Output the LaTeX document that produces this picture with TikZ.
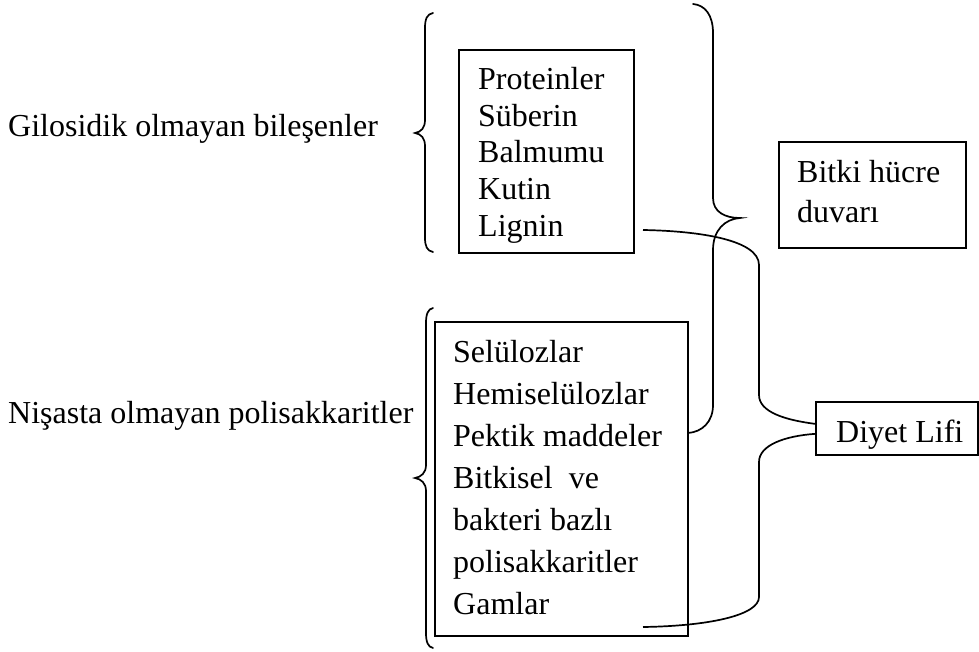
\documentclass[tikz,border=0pt]{standalone}
\usepackage{fontspec}
\setmainfont{Liberation Serif}
\tikzset{
  box/.style={draw, line width=1.7pt, inner sep=0pt, anchor=north west},
  listtext/.style={align=left, inner sep=0pt, anchor=north west},
  label/.style={inner sep=0pt, anchor=base west, font=\fontsize{32}{38}\selectfont},
  bracket/.style={line width=1.7pt, line cap=round},
  link/.style={line width=1.7pt}
}
\begin{document}
\begin{tikzpicture}[x=1pt, y=-1pt]
  \useasboundingbox (0,0) rectangle (979,652);
  \node[label] (nonglyclabel) at (8,137) {Gilosidik olmayan bileşenler};
  \node[label] (nspLabel) at (8,423) {Nişasta olmayan polisakkaritler};
  \node[box, minimum width=175pt, minimum height=203pt] (nonglycbox) at (458,49) {};
  \node[listtext, font=\fontsize{32}{36.7}\selectfont] (nonglyc) at (478,67)
    {Proteinler\\Süberin\\Balmumu\\Kutin\\Lignin};
  \node[box, minimum width=253pt, minimum height=314pt] (nspbox) at (434,321) {};
  \node[listtext, font=\fontsize{32}{42}\selectfont] (nsp) at (453,340)
    {Selülozlar\\Hemiselülozlar\\Pektik maddeler\\Bitkisel\ \ ve\\bakteri bazlı\\polisakkaritler\\Gamlar};
  \node[box, minimum width=187pt, minimum height=106pt] (wallbox) at (778,141) {};
  \node[listtext, font=\fontsize{32}{40}\selectfont] (wall) at (797,160)
    {Bitki hücre\\duvarı};
  \node[box, minimum width=162pt, minimum height=53pt] (diyet) at (815,401) {};
  \node[listtext, font=\fontsize{32}{38}\selectfont] (diyettext) at (836,420) {Diyet Lifi};
  \draw[bracket] (433,13) .. controls (427,14) and (425,19) .. (425,28) -- (425,120)
    .. controls (425,128) and (421,132) .. (415,133) .. controls (421,134) and (425,138) .. (425,146)
    -- (425,238) .. controls (425,246) and (427,251) .. (433,252);
  \draw[bracket] (433,308) .. controls (428,309) and (426,314) .. (426,323) -- (426,465)
    .. controls (426,473) and (421,477) .. (415,478) .. controls (421,479) and (426,483) .. (426,491)
    -- (426,633) .. controls (426,642) and (428,647) .. (433,648);
  \draw[bracket] (693,4) .. controls (705,5) and (713,15) .. (713,33) -- (713,198)
    .. controls (713,212) and (725,218) .. (740,218) .. controls (725,219) and (713,230) .. (713,250)
    -- (713,405) .. controls (713,422) and (702,432) .. (688,433);
  \coordinate (lignend) at (643,230);
  \coordinate (gamend) at (643,627);
  \draw[link] (lignend) .. controls (700,231) and (759,240) .. (759,265) -- (759,395)
    .. controls (759,412) and (785,420) .. ([yshift=4.5pt]diyet.west);
  \draw[link] (gamend) .. controls (710,626) and (759,615) .. (759,597) -- (759,462)
    .. controls (759,445) and (785,436) .. ([yshift=-5.5pt]diyet.west);
\end{tikzpicture}
\end{document}
